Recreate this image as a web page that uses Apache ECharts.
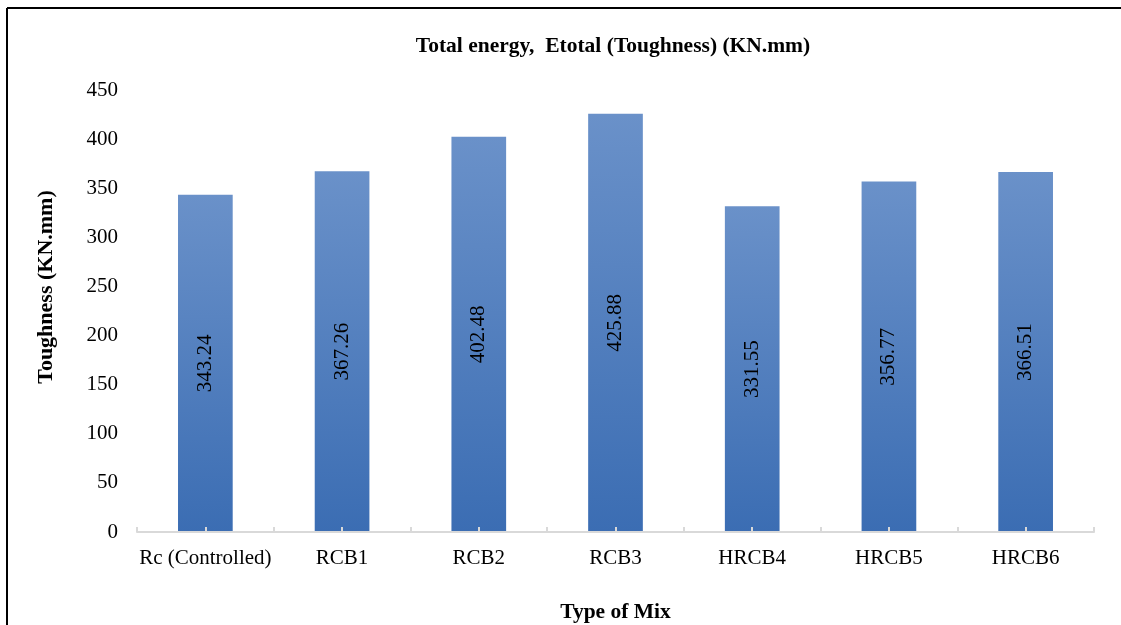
<!DOCTYPE html>
<html>
<head>
<meta charset="utf-8">
<script src="https://cdn.jsdelivr.net/npm/echarts@6/dist/echarts.min.js"></script>
<style>
html,body{margin:0;padding:0;background:#fff;}
#main{width:1121px;height:625px;}
</style>
</head>
<body>
<div id="main"></div>
<script>
const categories = ['Rc (Controlled)', 'RCB1', 'RCB2', 'RCB3', 'HRCB4', 'HRCB5', 'HRCB6'];
const toughness = [343.24, 367.26, 402.48, 425.88, 331.55, 356.77, 366.51];
const yTicks = { min: 0, max: 450, interval: 50 };
const titleText = 'Total energy,  Etotal (Toughness) (KN.mm)';
const xName = 'Type of Mix';
const yName = 'Toughness (KN.mm)';

const FONT = '"Liberation Serif", "Times New Roman", serif';
const chart = echarts.init(document.getElementById('main'));
chart.setOption({
  animation: false,
  backgroundColor: '#ffffff',
  title: {
    text: titleText,
    left: 608,
    textAlign: 'center',
    top: 30,
    textStyle: { fontFamily: FONT, fontSize: 21.5, fontWeight: 'bold', color: '#000' }
  },
  grid: { left: 137, right: 27, top: 90, bottom: 93, containLabel: false, outerBoundsMode: 'none' },
  xAxis: [{
    type: 'category',
    data: categories,
    z: 5,
    axisLine: { lineStyle: { color: '#d9d9d9', width: 2 } },
    axisTick: { show: true, inside: true, length: 5, lineStyle: { color: '#d9d9d9', width: 2 } },
    axisLabel: { fontFamily: FONT, fontSize: 21, color: '#000', margin: 16, interval: 0 },
    name: xName,
    nameLocation: 'middle',
    nameGap: 69,
    nameTextStyle: { fontFamily: FONT, fontSize: 21.5, fontWeight: 'bold', color: '#000' }
  }, {
    type: 'category',
    data: categories,
    position: 'bottom',
    z: 5,
    axisLine: { show: false },
    axisTick: { show: true, inside: true, alignWithLabel: true, interval: 0, length: 5, lineStyle: { color: '#d9d9d9', width: 2 } },
    axisLabel: { show: false }
  }],
  yAxis: {
    type: 'value',
    min: yTicks.min,
    max: yTicks.max,
    interval: yTicks.interval,
    axisLine: { show: false },
    axisTick: { show: false },
    splitLine: { show: false },
    axisLabel: { fontFamily: FONT, fontSize: 21, color: '#000', margin: 19 }
  },
  series: [{
    type: 'bar',
    data: toughness,
    barCategoryGap: '60%',
    itemStyle: {
      color: new echarts.graphic.LinearGradient(0, 0, 0, 1, [
        { offset: 0, color: '#6a91c9' },
        { offset: 1, color: '#3b6db3' }
      ])
    },
    label: {
      show: true,
      position: 'inside',
      rotate: 90,
      formatter: p => p.value.toFixed(2),
      fontFamily: FONT,
      fontSize: 21,
      color: '#000'
    }
  }],
  graphic: [
    { type: 'line', shape: { x1: 7, y1: 8, x2: 1121, y2: 8 }, style: { stroke: '#000', lineWidth: 2 } },
    { type: 'line', shape: { x1: 7, y1: 8, x2: 7, y2: 625 }, style: { stroke: '#000', lineWidth: 2 } },
    {
      type: 'text', x: 46, y: 287, rotation: Math.PI / 2,
      style: { text: yName, fontFamily: FONT, fontSize: 22, fontWeight: 'bold', fill: '#000', align: 'center', verticalAlign: 'middle' }
    }
  ]
});
</script>
</body>
</html>
